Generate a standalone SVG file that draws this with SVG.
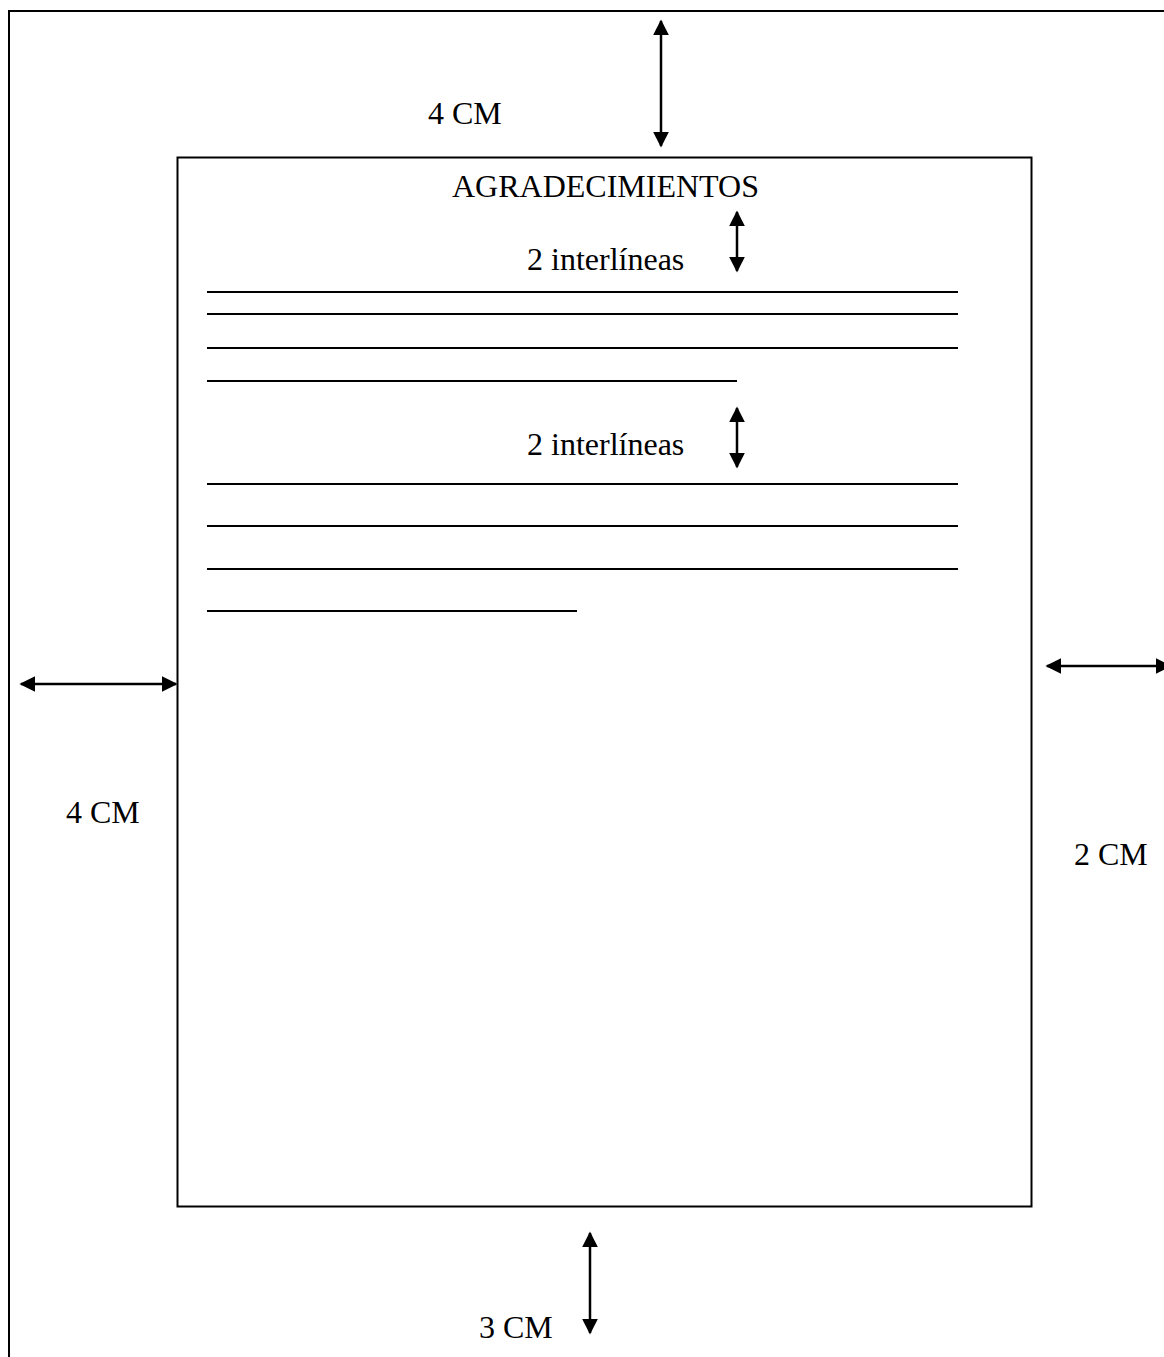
<svg xmlns="http://www.w3.org/2000/svg" width="1164" height="1357" viewBox="0 0 1164 1357">
<style>
.t{font-family:"Liberation Serif","Times New Roman",serif;font-size:32px;fill:#000}
.b{fill:none;stroke:#000;stroke-width:2}
.ln{stroke:#000;stroke-width:2}
.ar{stroke:#000;stroke-width:2.5;marker-start:url(#h);marker-end:url(#h)}
</style>
<defs>
<marker id="h" viewBox="0 0 10 10" refX="9" refY="5" markerWidth="6.4" markerHeight="6.4" orient="auto-start-reverse" markerUnits="strokeWidth">
<path d="M0,0 L10,5 L0,10 z" fill="#000"/>
</marker>
</defs>
<rect width="1164" height="1357" fill="#fff"/>
<g id="page">
<rect class="b" x="9" y="11" width="1170" height="1360"/>
</g>
<g id="margin-box">
<rect class="b" x="177.5" y="157.5" width="854" height="1049" stroke-width="1.5"/>
<text class="t" x="452" y="197">AGRADECIMIENTOS</text>
</g>
<g id="text-lines">
<line class="ln" x1="207" y1="292" x2="958" y2="292"/>
<line class="ln" x1="207" y1="314" x2="958" y2="314"/>
<line class="ln" x1="207" y1="348" x2="958" y2="348"/>
<line class="ln" x1="207" y1="381" x2="737" y2="381"/>
<line class="ln" x1="207" y1="484" x2="958" y2="484"/>
<line class="ln" x1="207" y1="526" x2="958" y2="526"/>
<line class="ln" x1="207" y1="569" x2="958" y2="569"/>
<line class="ln" x1="207" y1="611" x2="577" y2="611"/>
</g>
<g id="labels">
<text class="t" x="428" y="124">4 CM</text>
<text class="t" x="527" y="270">2 interlíneas</text>
<text class="t" x="527" y="455">2 interlíneas</text>
<text class="t" x="66" y="823">4 CM</text>
<text class="t" x="1074" y="865">2 CM</text>
<text class="t" x="479" y="1338">3 CM</text>
</g>
<g id="connectors">
<line class="ar" x1="661" y1="21" x2="661" y2="146"/>
<line class="ar" x1="737" y1="212" x2="737" y2="271"/>
<line class="ar" x1="737" y1="408" x2="737" y2="467"/>
<line class="ar" x1="21" y1="684" x2="176" y2="684"/>
<line class="ar" x1="1047" y1="666" x2="1170" y2="666"/>
<line class="ar" x1="590" y1="1233" x2="590" y2="1333"/>
</g>
</svg>
